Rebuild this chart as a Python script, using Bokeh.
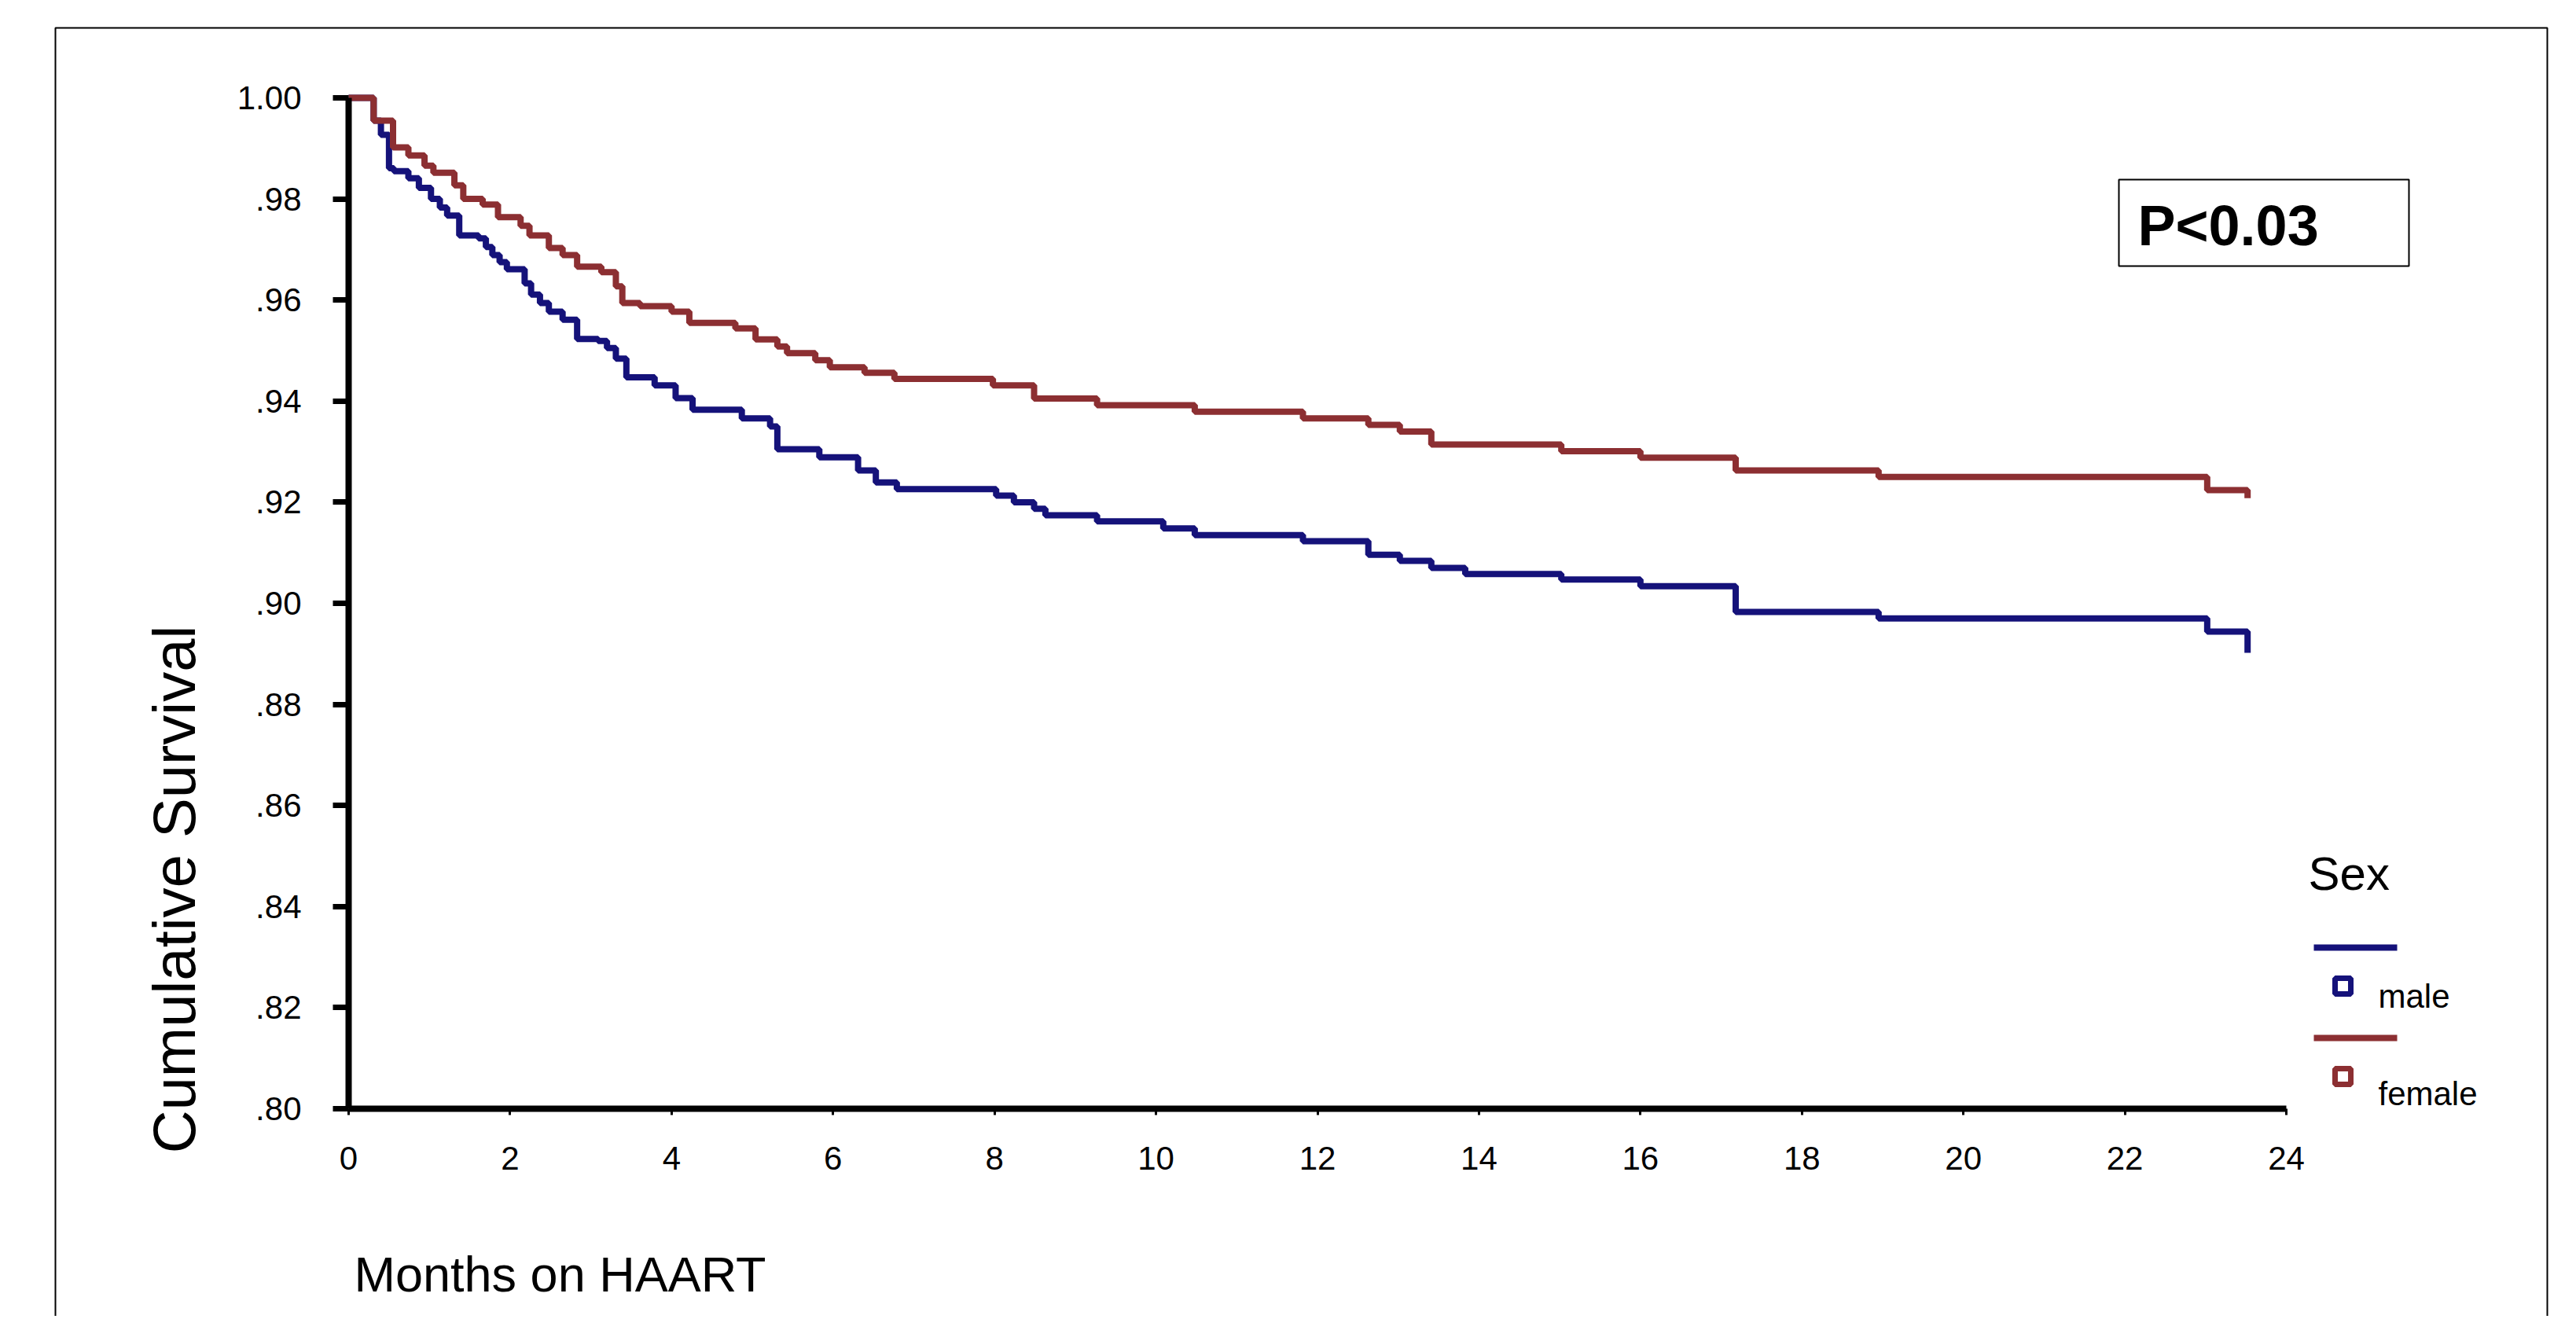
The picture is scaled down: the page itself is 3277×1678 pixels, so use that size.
from math import pi
from bokeh.plotting import figure
from bokeh.models import (Range1d, LinearAxis, FixedTicker, Label, BoxAnnotation)
from bokeh.embed import file_html
from bokeh.resources import INLINE

# ---------------- data ----------------
x_ticks = [0, 2, 4, 6, 8, 10, 12, 14, 16, 18, 20, 22, 24]
y_ticks = [0.80, 0.82, 0.84, 0.86, 0.88, 0.90, 0.92, 0.94, 0.96, 0.98, 1.00]
y_tick_labels = [".80", ".82", ".84", ".86", ".88", ".90", ".92", ".94", ".96", ".98", "1.00"]

series_names = ["male", "female"]

male_months = [0, 0.31, 0.40, 0.50, 0.56, 0.74, 0.87, 1.02, 1.13, 1.22, 1.37, 1.61, 1.70, 1.78,
               1.87, 1.96, 2.18, 2.26, 2.37, 2.48, 2.65, 2.83, 3.09, 3.20, 3.31, 3.44, 3.79, 4.05,
               4.26, 4.87, 5.22, 5.31, 5.83, 6.31, 6.53, 6.79, 8.02, 8.24, 8.49, 8.63, 9.27, 10.09,
               10.48, 11.82, 12.63, 13.02, 13.41, 13.83, 15.02, 16.0, 17.18, 18.95, 23.02, 23.52]
male_survival = [1.0, 0.9955, 0.9927, 0.9861, 0.9855, 0.9841, 0.9822, 0.9800, 0.9783, 0.9767,
                 0.9728, 0.9722, 0.9705, 0.9689, 0.9675, 0.9661, 0.9633, 0.9611, 0.9594, 0.9577,
                 0.9561, 0.9523, 0.9519, 0.9505, 0.9484, 0.9447, 0.9431, 0.9406, 0.9383, 0.9366,
                 0.9350, 0.9305, 0.9289, 0.9263, 0.9239, 0.9226, 0.9213, 0.9200, 0.9187, 0.9174,
                 0.9162, 0.9148, 0.9135, 0.9123, 0.9096, 0.9084, 0.9070, 0.9058, 0.9047, 0.9034,
                 0.8983, 0.8970, 0.8944, 0.8902]

female_months = [0, 0.31, 0.55, 0.74, 0.94, 1.05, 1.31, 1.42, 1.66, 1.85, 2.13, 2.24, 2.48, 2.65,
                 2.83, 3.13, 3.31, 3.39, 3.61, 4.00, 4.22, 4.79, 5.04, 5.31, 5.43, 5.78, 5.96, 6.39,
                 6.76, 7.98, 8.49, 9.27, 10.48, 11.82, 12.63, 13.02, 13.41, 15.02, 16.0, 17.18,
                 18.95, 23.02, 23.52]
female_survival = [1.0, 0.9955, 0.9902, 0.9886, 0.9866, 0.9852, 0.9827, 0.9800, 0.9789, 0.9764,
                   0.9747, 0.9728, 0.9703, 0.9689, 0.9666, 0.9655, 0.9627, 0.9594, 0.9588, 0.9577,
                   0.9555, 0.9544, 0.9522, 0.9508, 0.9495, 0.9481, 0.9467, 0.9456, 0.9444, 0.9431,
                   0.9405, 0.9392, 0.9379, 0.9366, 0.9353, 0.9340, 0.9314, 0.9301, 0.9288, 0.9263,
                   0.9250, 0.9224, 0.9208]

p_value_text = "P<0.03"
legend_title = "Sex"
x_title = "Months on HAART"
y_title = "Cumulative Survival"

# ---------------- layout (canvas pixels) ----------------
W, H = 3270, 1674
FL, FR, FT = 40, 3255, 10                    # plot frame (holds everything)
X0PX, X24PX = 443, 2908                      # px of month 0 / 24
Y1PX, Y08PX = 124, 1410                      # px of 1.00 / 0.80
ppx = (X24PX - X0PX) / 24.0
ppy = (Y08PX - Y1PX) / 0.20


def dx(cx):
    return (cx - X0PX) / ppx


def dy(cy):
    return 1.0 - (cy - Y1PX) / ppy


FONT = "Liberation Sans"
BLUE = "#15127a"
RED = "#8c2f32"

p = figure(width=W, height=H, output_backend="svg", toolbar_location=None,
           x_range=Range1d(dx(FL), dx(FR)), y_range=Range1d(dy(H), dy(FT)),
           x_axis_type=None, y_axis_type=None,
           min_border_left=FL, min_border_right=W - FR, min_border_top=FT, min_border_bottom=0)
p.background_fill_color = "white"
p.border_fill_color = "white"
p.outline_line_color = None

# outer border (open at the bottom, like the reference)
p.add_layout(BoxAnnotation(left=dx(70), right=dx(3240), top=dy(35), bottom=dy(H + 200),
                           fill_alpha=0, line_color="black", line_alpha=1.0, line_width=2,
                           level="underlay"))

xaxis = LinearAxis(fixed_location=0.80, bounds=(0, 24), ticker=FixedTicker(ticks=x_ticks))
xaxis.axis_line_width = 8
xaxis.axis_line_color = "black"
xaxis.major_tick_line_width = 3
xaxis.major_tick_out = 8
xaxis.major_tick_in = 0
xaxis.minor_tick_line_color = None
xaxis.major_label_standoff = 40
xaxis.major_label_text_font = FONT
xaxis.major_label_text_font_size = "42px"
xaxis.major_label_text_color = "black"
p.add_layout(xaxis, "below")

yaxis = LinearAxis(fixed_location=0, bounds=(0.80, 1.00), ticker=FixedTicker(ticks=y_ticks))
yaxis.major_label_overrides = {t: l for t, l in zip(y_ticks, y_tick_labels)}
yaxis.axis_line_width = 8
yaxis.axis_line_color = "black"
yaxis.major_tick_line_width = 7
yaxis.major_tick_out = 20
yaxis.major_tick_in = 0
yaxis.minor_tick_line_color = None
yaxis.major_label_standoff = 40
yaxis.major_label_text_font = FONT
yaxis.major_label_text_font_size = "42px"
yaxis.major_label_text_color = "black"
p.add_layout(yaxis, "left")

# curves
p.step(x=male_months, y=male_survival, mode="after", line_width=8, line_color=BLUE)
p.step(x=female_months, y=female_survival, mode="after", line_width=8, line_color=RED)

# axis titles
p.add_layout(Label(x=dx(221), y=dy(1131), text=y_title, angle=pi / 2, text_align="center",
                   text_baseline="middle", text_font=FONT, text_font_size="76px", text_color="black"))
p.add_layout(Label(x=dx(450), y=dy(1620), text=x_title, text_align="left",
                   text_baseline="middle", text_font=FONT, text_font_size="63px", text_color="black"))

# P value box
p.add_layout(BoxAnnotation(left=dx(2695), right=dx(3064), top=dy(228), bottom=dy(338),
                           fill_color="white", fill_alpha=1.0, line_color="black",
                           line_alpha=1.0, line_width=2))
p.add_layout(Label(x=dx(2719), y=dy(286), text=p_value_text, text_align="left",
                   text_baseline="middle", text_font=FONT, text_font_size="72px",
                   text_font_style="bold", text_color="black"))

# legend (Sex)
p.add_layout(Label(x=dx(2936), y=dy(1111), text=legend_title, text_font=FONT,
                   text_font_size="60px", text_baseline="middle", text_color="black"))
for name, col, line_y, mark_y, lab_y in [(series_names[0], BLUE, 1205, 1254, 1267),
                                        (series_names[1], RED, 1320, 1369, 1391)]:
    p.segment(x0=[dx(2943)], y0=[dy(line_y)], x1=[dx(3049)], y1=[dy(line_y)],
              line_color=col, line_width=8)
    p.scatter(x=[dx(2980)], y=[dy(mark_y)], marker="square", size=20,
              fill_color="white", line_color=col, line_width=7)
    p.add_layout(Label(x=dx(3025), y=dy(lab_y), text=name, text_font=FONT,
                       text_font_size="42px", text_baseline="middle", text_color="black"))

open("out.html", "w").write(file_html(p, INLINE))
